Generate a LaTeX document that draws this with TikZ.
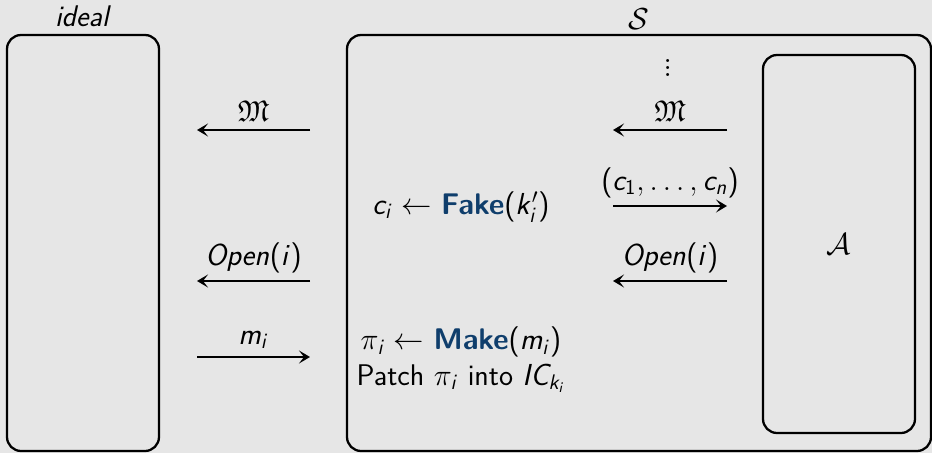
\documentclass[tikz,border=0pt]{standalone}
\usepackage{amssymb}
\usepackage{tikz}
\usetikzlibrary{positioning, arrows.meta}
\definecolor{slidegrey}{RGB}{230,230,230}
\definecolor{keynavy}{RGB}{15,62,108}
% sans serif math, slide style
\DeclareSymbolFont{operators}{OT1}{cmss}{m}{n}
\DeclareSymbolFont{sfletters}{OT1}{cmss}{m}{sl}
\DeclareMathSymbol{c}{\mathalpha}{sfletters}{`c}
\DeclareMathSymbol{i}{\mathalpha}{sfletters}{`i}
\DeclareMathSymbol{k}{\mathalpha}{sfletters}{`k}
\DeclareMathSymbol{m}{\mathalpha}{sfletters}{`m}
\DeclareMathSymbol{n}{\mathalpha}{sfletters}{`n}
\DeclareMathSymbol{p}{\mathalpha}{sfletters}{`p}
\DeclareMathSymbol{e}{\mathalpha}{sfletters}{`e}
\DeclareMathSymbol{O}{\mathalpha}{sfletters}{`O}
\DeclareMathSymbol{I}{\mathalpha}{sfletters}{`I}
\DeclareMathSymbol{C}{\mathalpha}{sfletters}{`C}

\begin{document}
\begin{tikzpicture}[
    every node/.style={font=\sffamily\fontsize{17}{20}\selectfont},
    party/.style={rectangle, draw=black, line width=1.3pt, rounded corners=8pt, minimum width=3.04cm, minimum height=8.32cm},
    msg/.style={-{Stealth[length=2.2mm, width=2.6mm, inset=1mm]}, line width=1.25pt},
    lbl/.style={above, inner sep=4pt}
  ]
  \fill[slidegrey] (0,0) rectangle (18.64,-9.06);
  \useasboundingbox (0,0) rectangle (18.64,-9.06);

  % Parties
  \node[party] (ideal) at (1.66,-4.86) {};
  \node[party, minimum width=11.68cm] (sim) at (12.78,-4.86) {};
  \node[party, minimum height=7.56cm] (adv) at (16.78,-4.88) {$\mathcal{A}$};
  \node[above=3pt of ideal, inner sep=1pt] (idealname) {\textit{ideal}};
  \node[above=1pt of sim, inner sep=1pt] (simname) {$\mathcal{S}$};
  \node[inner sep=0pt, font=\fontsize{21}{24}\selectfont] (dots) at (13.36,-1.26) {$\vdots$};

  % Arrow ends
  \coordinate (la1) at (3.94,-2.6);  \coordinate (lb1) at (6.2,-2.6);
  \coordinate (la3) at (3.94,-5.62); \coordinate (lb3) at (6.2,-5.62);
  \coordinate (la4) at (3.94,-7.14); \coordinate (lb4) at (6.2,-7.14);
  \coordinate (ra1) at (12.26,-2.6);  \coordinate (rb1) at (14.54,-2.6);
  \coordinate (ra2) at (12.26,-4.12); \coordinate (rb2) at (14.54,-4.12);
  \coordinate (ra3) at (12.26,-5.62); \coordinate (rb3) at (14.54,-5.62);

  % Simulator steps
  \node (fake) at (9.22,-4.14) {$c_i \leftarrow$ \textcolor{keynavy}{\textbf{Fake}}$(k'_i)$};
  \node[align=center] (make) at (9.22,-7.2) {$\pi_i \leftarrow$ \textcolor{keynavy}{\textbf{Make}}$(m_i)$\\Patch $\pi_i$ into $IC_{k_i}$};

  % Connections
  \draw[msg] (lb1) -- node[lbl] {$\mathfrak{M}$} (la1);
  \draw[msg] (lb3) -- node[lbl] {$Open(i)$} (la3);
  \draw[msg] (la4) -- node[lbl] {$m_i$} (lb4);
  \draw[msg] (rb1) -- node[lbl] {$\mathfrak{M}$} (ra1);
  \draw[msg] (ra2) -- node[lbl] {$(c_1,\ldots,c_n)$} (rb2);
  \draw[msg] (rb3) -- node[lbl] {$Open(i)$} (ra3);

\end{tikzpicture}
\end{document}
